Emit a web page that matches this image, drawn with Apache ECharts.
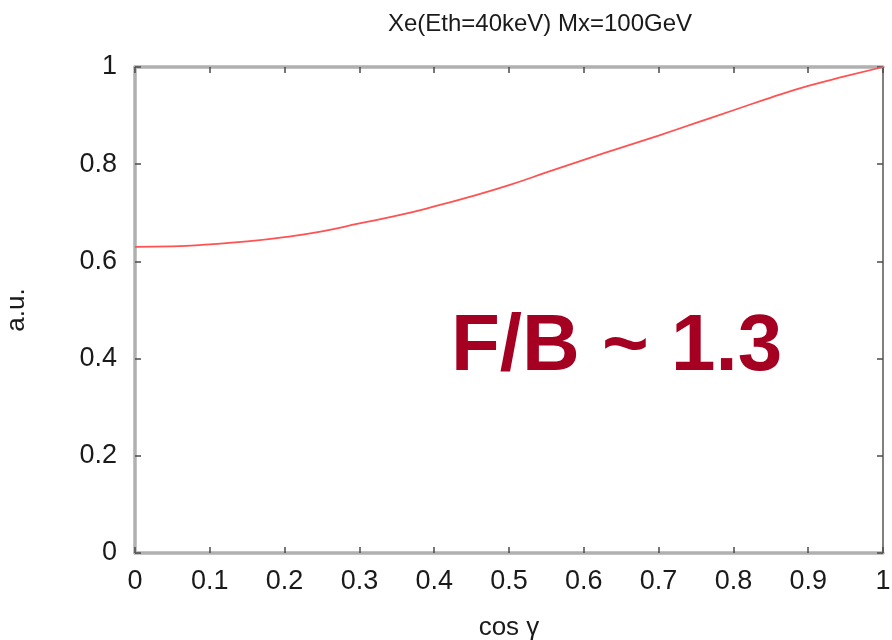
<!DOCTYPE html>
<html>
<head>
<meta charset="utf-8">
<script src="https://cdn.jsdelivr.net/npm/echarts@6/dist/echarts.min.js"></script>
<style>
  html, body { margin: 0; padding: 0; background: #fff; }
  #chart { width: 892px; height: 640px; }
</style>
</head>
<body>
<div id="chart"></div>
<script>
// Angular distribution of recoils, cos(gamma) vs. relative rate
const cosGamma = [0, 0.05, 0.1, 0.15, 0.2, 0.25, 0.3, 0.35, 0.4, 0.45, 0.5,
                  0.55, 0.6, 0.65, 0.7, 0.75, 0.8, 0.85, 0.9, 0.95, 1.0];
const rate = [0.630, 0.631, 0.635, 0.641, 0.650, 0.662, 0.678, 0.694, 0.713, 0.734, 0.757,
              0.783, 0.809, 0.834, 0.859, 0.885, 0.911, 0.937, 0.961, 0.981, 1.000];
const xTicks = [0, 0.1, 0.2, 0.3, 0.4, 0.5, 0.6, 0.7, 0.8, 0.9, 1];
const yTicks = [0, 0.2, 0.4, 0.6, 0.8, 1];

const titleText = 'Xe(Eth=40keV) Mx=100GeV';
const ratioText = 'F/B ~ 1.3';

const font = '"Liberation Sans", Arial, Helvetica, sans-serif';
const boxLine = { color: '#b0b0b0', width: 3.5 };
const tickStyle = { color: '#4a4a4a', width: 1.5 };
const labelColor = '#1a1a1a';

const fmtX = v => (xTicks.some(t => Math.abs(t - v) < 1e-9) ? String(+v.toFixed(1)) : '');
const fmtY = v => (yTicks.some(t => Math.abs(t - v) < 1e-9) ? String(+v.toFixed(1)) : '');

const chart = echarts.init(document.getElementById('chart'), null, { renderer: 'canvas' });
chart.setOption({
  animation: false,
  backgroundColor: '#ffffff',
  title: {
    text: titleText,
    left: 535, top: 7, textAlign: 'center',
    textStyle: { fontFamily: font, fontSize: 24, fontWeight: 'normal', color: labelColor }
  },
  grid: { left: 135, right: 9, top: 67, bottom: 87, containLabel: false, outerBoundsMode: 'none' },
  xAxis: [{
    type: 'value', min: 0, max: 1, interval: 0.1, position: 'bottom',
    name: 'cos γ', nameLocation: 'middle', nameGap: 62,
    nameTextStyle: { fontFamily: font, fontSize: 26, color: labelColor },
    axisLine: { show: true, onZero: false, lineStyle: boxLine },
    axisTick: { show: true, inside: true, length: 6, lineStyle: tickStyle },
    axisLabel: { margin: 15, fontFamily: font, fontSize: 27, color: labelColor, formatter: fmtX },
    splitLine: { show: false }
  }, {
    type: 'value', min: 0, max: 1, interval: 0.1, position: 'top',
    axisLine: { show: true, onZero: false, lineStyle: boxLine },
    axisTick: { show: true, inside: true, length: 6, lineStyle: tickStyle },
    axisLabel: { show: false }, splitLine: { show: false }
  }],
  yAxis: [{
    type: 'value', min: 0, max: 1, interval: 0.2, position: 'left',
    name: 'a.u.', nameLocation: 'middle', nameGap: 105, nameRotate: 90,
    nameTextStyle: { fontFamily: font, fontSize: 26, color: labelColor },
    axisLine: { show: true, onZero: false, lineStyle: boxLine },
    axisTick: { show: true, inside: true, length: 6, lineStyle: tickStyle },
    axisLabel: { margin: 18, fontFamily: font, fontSize: 27, color: labelColor, formatter: fmtY },
    splitLine: { show: false }
  }, {
    type: 'value', min: 0, max: 1, interval: 0.2, position: 'right',
    axisLine: { show: true, onZero: false, lineStyle: { color: '#808080', width: 2 } },
    axisTick: { show: true, inside: true, length: 6, lineStyle: tickStyle },
    axisLabel: { show: false }, splitLine: { show: false }
  }],
  series: [{
    type: 'line',
    xAxisIndex: 0, yAxisIndex: 0,
    data: cosGamma.map((c, i) => [c, rate[i]]),
    smooth: true,
    showSymbol: false,
    lineStyle: { color: '#ff5252', width: 1.8 },
    z: 3
  }],
  graphic: [{
    type: 'text',
    left: 451, top: 308,
    style: {
      text: ratioText,
      fontFamily: font, fontSize: 80, fontWeight: 'bold',
      fill: '#a50021'
    }
  }]
});
</script>
</body>
</html>
